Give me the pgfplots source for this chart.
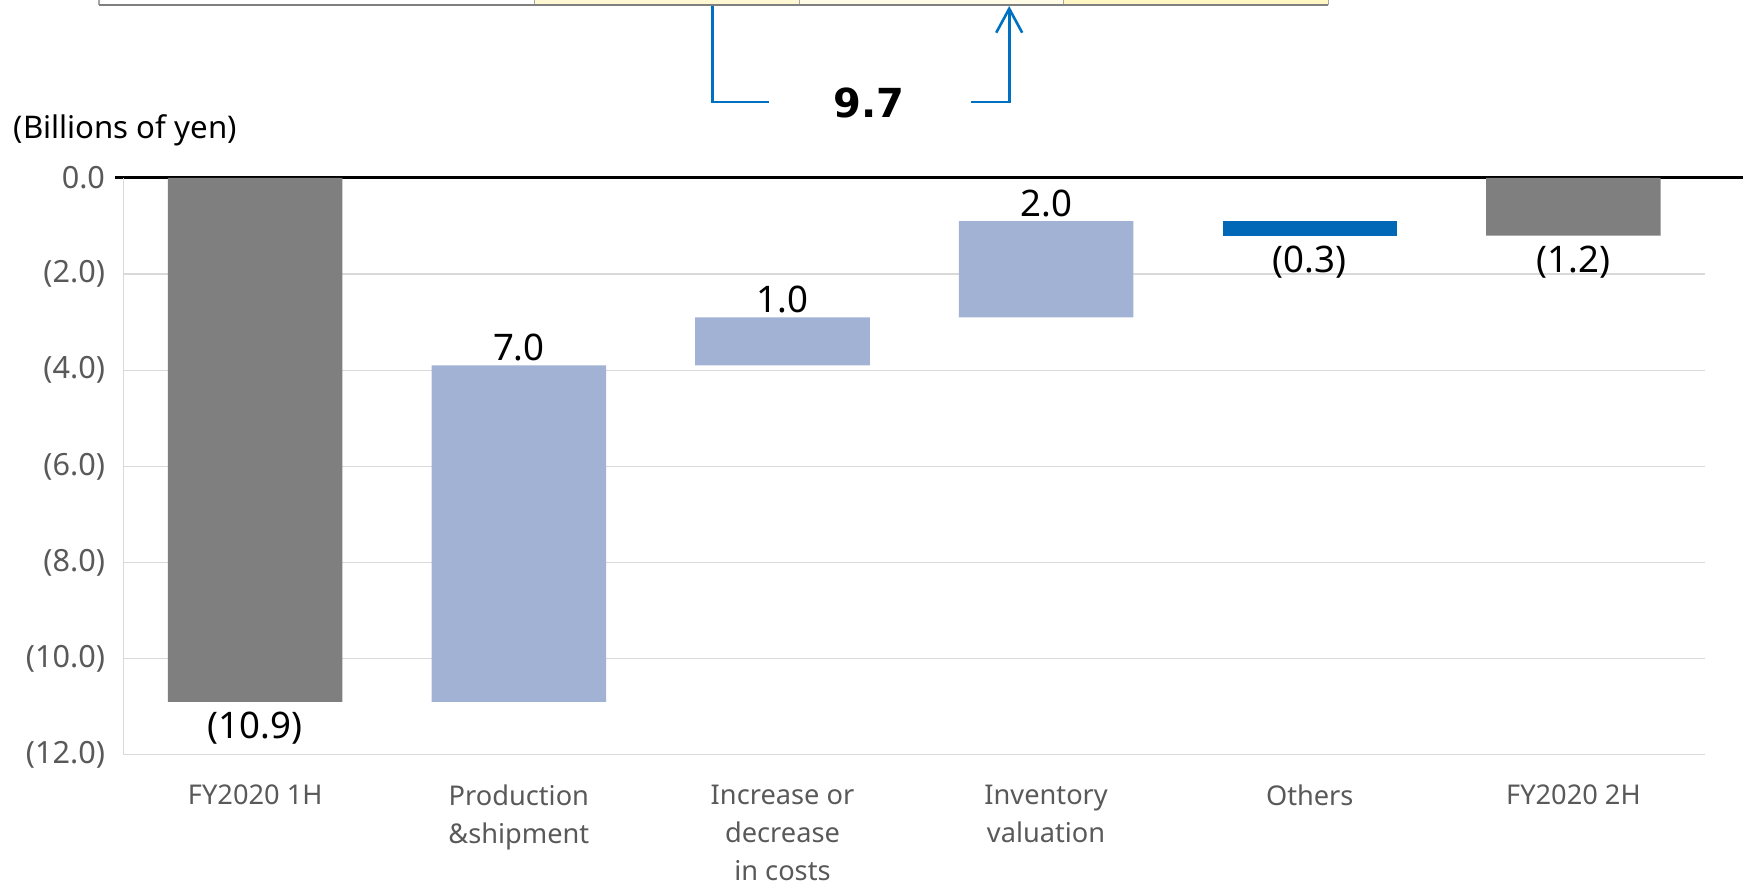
\documentclass[border=0pt]{standalone}
\usepackage{pgfplots}
\pgfplotsset{compat=1.18}
\usepackage{fontspec}
\setmainfont{Noto Sans}
\newfontfamily\boldnum{DejaVu Sans}
\usetikzlibrary{arrows.meta}
\definecolor{barGray}{HTML}{7F7F7F}
\definecolor{barLight}{HTML}{A2B2D4}
\definecolor{barDark}{HTML}{0068B7}
\definecolor{gridGray}{HTML}{D9D9D9}
\definecolor{tickGray}{HTML}{595959}
\definecolor{bracketBlue}{HTML}{0070C0}
\definecolor{cellA}{HTML}{FFFFFF}
\definecolor{cellB}{HTML}{FFF8D2}
\definecolor{cellC}{HTML}{FFFBE6}
\definecolor{cellD}{HTML}{FFF6C2}
\tikzset{vlab/.style={font=\fontsize{18.3}{22}\selectfont,anchor=base,inner sep=0pt}}
\begin{document}
\begin{tikzpicture}
\useasboundingbox (0,0) rectangle (871.5pt,444pt);
% cut-off table at the top
\fill[cellA] (49.5pt,441.5pt) rectangle (267.4pt,444pt);
\fill[cellB] (267.4pt,441.5pt) rectangle (399.6pt,444pt);
\fill[cellC] (399.6pt,441.5pt) rectangle (531.9pt,444pt);
\fill[cellD] (531.9pt,441.5pt) rectangle (664.2pt,444pt);
\draw[gray!70,line width=0.6pt] (49.5pt,441.5pt) -- (49.5pt,444pt);
\draw[gray!70,line width=0.6pt] (267.4pt,441.5pt) -- (267.4pt,444pt);
\draw[gray!70,line width=0.6pt] (399.6pt,441.5pt) -- (399.6pt,444pt);
\draw[gray!70,line width=0.6pt] (531.9pt,441.5pt) -- (531.9pt,444pt);
\draw[gray!70,line width=0.6pt] (664.2pt,441.5pt) -- (664.2pt,444pt);
\draw[gray,line width=1.1pt] (49.5pt,441.6pt) -- (664.2pt,441.6pt);
% bracket
\draw[bracketBlue,line width=1.3pt] (356.3pt,441pt) -- (356.3pt,393pt) -- (384.5pt,393pt);
\draw[bracketBlue,line width=1.3pt,-{Straight Barb[length=12pt,width=13pt]}] (485.3pt,393pt) -- (504.6pt,393pt) -- (504.6pt,441pt);
\node[font=\boldnum\bfseries\fontsize{20}{24}\selectfont] at (434.5pt,392.3pt) {9.7};
\node[anchor=west,inner sep=0pt,font=\fontsize{15.6}{18}\selectfont] at (6.7pt,379pt) {(Billions of yen)};
\begin{axis}[
  at={(61.7pt,66.6pt)}, anchor=south west,
  scale only axis, width=790.9pt, height=288.45pt,
  ybar stacked, bar width=0.662,
  xmin=-0.5, xmax=5.5, ymin=-12, ymax=0,
  enlargelimits=false, clip=false,
  axis line style={draw=none},
  major tick length=0pt,
  ymajorgrids, major grid style={gridGray,line width=0.6pt},
  ytick={-12,-10,-8,-6,-4,-2,0},
  yticklabels={{(12.0)},{(10.0)},{(8.0)},{(6.0)},{(4.0)},{(2.0)},{0.0}},
  yticklabel style={font=\fontsize{15.3}{18}\selectfont,text=tickGray,anchor=east,inner sep=0pt,xshift=-9pt},
  xtick={0,1,2,3,4,5},
  xticklabels={{FY2020 1H},{Production\\\&shipment},{Increase or\\decrease\\in costs},{Inventory\\valuation},{Others},{FY2020 2H}},
  xticklabel style={font=\fontsize{13.6}{18.9}\selectfont,text=tickGray,align=center,anchor=north,inner sep=0pt,yshift=-15pt},
]
\addplot[draw=none,fill=white,fill opacity=0] coordinates {(0,0)(1,-3.9)(2,-2.9)(3,-0.9)(4,-0.9)(5,0)};
\addplot[draw=none,fill=barGray] coordinates {(0,-10.9)(1,0)(2,0)(3,0)(4,0)(5,-1.2)};
\addplot[draw=none,fill=barLight] coordinates {(0,0)(1,-7.0)(2,-1.0)(3,-2.0)(4,0)(5,0)};
\addplot[draw=none,fill=barDark] coordinates {(0,0)(1,0)(2,0)(3,0)(4,-0.3)(5,0)};
\draw[gridGray,line width=0.6pt] (axis cs:-0.5,-12) -- (axis cs:-0.5,0);
\draw[black,line width=1.6pt] (axis cs:-0.53,0) -- (axis cs:5.65,0);
\node[vlab,yshift=-18.5pt] at (axis cs:0,-10.9) {(10.9)};
\node[vlab,yshift=2.5pt] at (axis cs:1,-3.9) {7.0};
\node[vlab,yshift=2.5pt] at (axis cs:2,-2.9) {1.0};
\node[vlab,yshift=2.5pt] at (axis cs:3,-0.9) {2.0};
\node[vlab,yshift=-18.5pt] at (axis cs:4,-1.2) {(0.3)};
\node[vlab,yshift=-18.5pt] at (axis cs:5,-1.2) {(1.2)};
\end{axis}
\end{tikzpicture}
\end{document}
